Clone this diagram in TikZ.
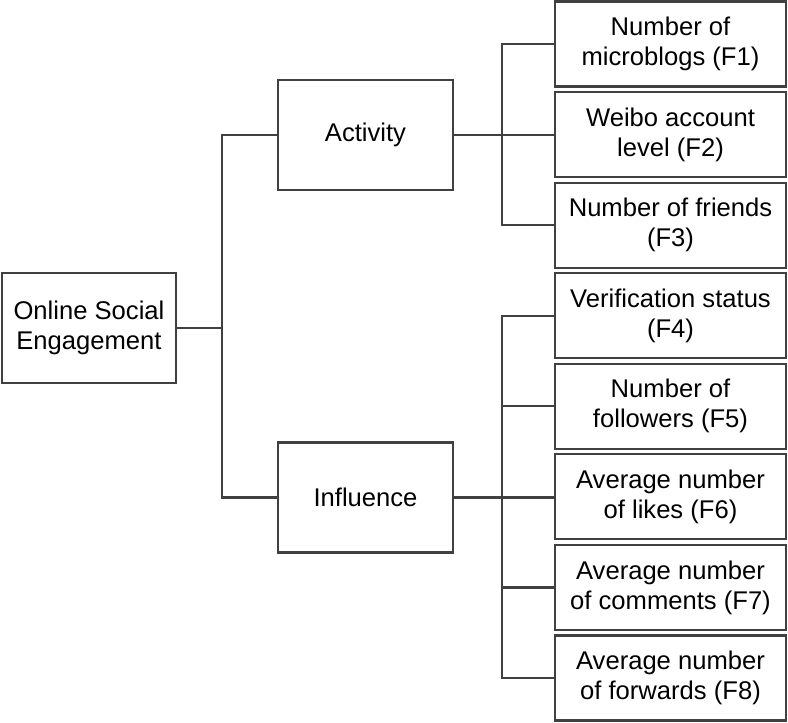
\documentclass[tikz,border=0pt]{standalone}
\usepackage{fontspec}
\setmainfont{Liberation Sans}
\usepackage{xcolor}
\usetikzlibrary{positioning,calc}
\definecolor{linegray}{HTML}{404040}

\begin{document}
\begin{tikzpicture}[x=0.5pt, y=-0.5pt,
    box/.style={draw=linegray, line width=1.1pt, align=center, inner sep=0pt,
        font=\fontsize{12.8}{15}\selectfont},
    link/.style={draw=linegray, line width=1.1pt}]
    \useasboundingbox (0,0) rectangle (788,723);

    % Root and the two dimensions
    \node[box, minimum width=87pt, minimum height=55pt] (root) at (89,328) {Online Social\\Engagement};
    \node[box, minimum width=87.5pt, minimum height=55pt] (act) at (365.5,135) {Activity};
    \node[box, minimum width=87.5pt, minimum height=55pt] (inf) at (365.5,497.5) {Influence};

    % Indicators
    \foreach \i/\txt in {1/{Number of\\microblogs (F1)}, 2/{Weibo account\\level (F2)},
        3/{Number of friends\\(F3)}, 4/{Verification status\\(F4)},
        5/{Number of\\followers (F5)}, 6/{Average number\\of likes (F6)},
        7/{Average number\\of comments (F7)}, 8/{Average number\\of forwards (F8)}}
        \node[box, minimum width=115.5pt, minimum height=42.5pt] (f\i) at (670.5,{44+90.57*(\i-1)}) {\txt};

    % Connectors
    \coordinate (jr) at (222,328);
    \coordinate (ja) at (502,135);
    \coordinate (ji) at (502,497);
    \draw[link] (root.east) -- (jr);
    \draw[link] (act.west) -| (jr) |- (inf.west);
    \draw[link] (act.east) -- (act.east -| f2.west);
    \draw[link] (f1.west) -| (ja) |- (f3.west);
    \draw[link] (inf.east) -- (inf.east -| f6.west);
    \draw[link] (f4.west) -| (ji) |- (f8.west);
    \foreach \i in {5,7}
        \draw[link] (f\i.west) -- (f\i.west -| ji);

\end{tikzpicture}
\end{document}
